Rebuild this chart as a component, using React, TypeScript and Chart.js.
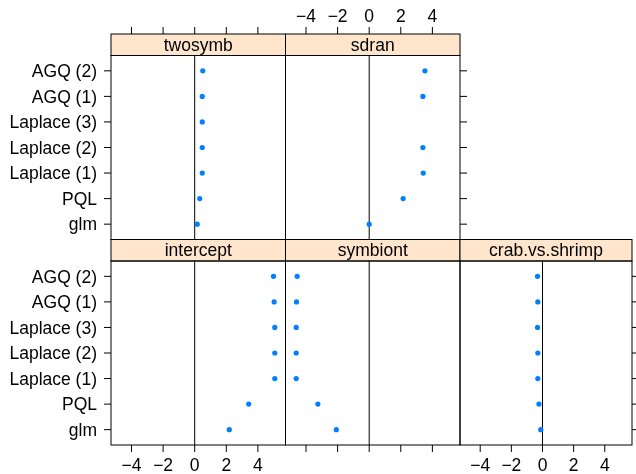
import React, { useEffect, useRef } from "react";
import { Chart, registerables } from "chart.js";

Chart.register(...registerables);

// Fitting methods, bottom to top
const methods = ["glm", "PQL", "Laplace (1)", "Laplace (2)", "Laplace (3)", "AGQ (1)", "AGQ (2)"];

// Coefficient estimates per term, one entry per method
const twosymb = [0.16, 0.32, 0.48, 0.48, 0.48, 0.48, 0.51];
const sdran = [0, 2.15, 3.42, 3.4, null, 3.4, 3.53];
const intercept = [2.19, 3.42, 5.07, 5.07, 5.07, 5.03, 4.99];
const symbiont = [-2.08, -3.25, -4.62, -4.62, -4.62, -4.6, -4.56];
const crabVsShrimp = [-0.11, -0.23, -0.3, -0.3, -0.32, -0.3, -0.32];

const xTicks = [-4, -2, 0, 2, 4];

// Page and panel geometry
const W = 636;
const H = 474;
const colLeft = [111, 285.5, 460];
const colWidth = 174.5;
const stripTop = [34, 239.5]; // top row, bottom row
const stripH = 21.5;
const plotH = 184;
const tickLen = 7;
const FONT = '17.5px "Liberation Sans", Arial, Helvetica, sans-serif';

// Shared x range: full data range padded by 7% on each side
const allValues = [...twosymb, ...sdran, ...intercept, ...symbiont, ...crabVsShrimp].filter(
  (v) => v !== null
) as number[];
const dataMin = Math.min(...allValues);
const dataMax = Math.max(...allValues);
const pad = (dataMax - dataMin) * 0.07;
const xMin = dataMin - pad;
const xMax = dataMax + pad;

type Side = "labels" | "ticks" | null;
type PanelSpec = {
  title: string;
  values: (number | null)[];
  row: number;
  col: number;
  left: Side;
  right: Side;
  top: Side;
  bottom: Side;
};

const panels: PanelSpec[] = [
  { title: "twosymb", values: twosymb, row: 0, col: 0, left: "labels", right: null, top: "ticks", bottom: null },
  { title: "sdran", values: sdran, row: 0, col: 1, left: null, right: "ticks", top: "labels", bottom: null },
  { title: "intercept", values: intercept, row: 1, col: 0, left: "labels", right: null, top: null, bottom: "labels" },
  { title: "symbiont", values: symbiont, row: 1, col: 1, left: null, right: null, top: null, bottom: "ticks" },
  { title: "crab.vs.shrimp", values: crabVsShrimp, row: 1, col: 2, left: null, right: "ticks", top: null, bottom: "labels" },
];

const fmt = (v: number) => (v < 0 ? "\u2212" + Math.abs(v) : String(v));

function makePanelPlugin(spec: PanelSpec) {
  return {
    id: "latticePanel",
    beforeDatasetsDraw(chart: any) {
      const { ctx, chartArea } = chart;
      const xs = chart.scales.x;
      const x0 = xs.getPixelForValue(0);
      ctx.save();
      ctx.strokeStyle = "#000";
      ctx.lineWidth = 1;
      ctx.beginPath();
      ctx.moveTo(x0, chartArea.top);
      ctx.lineTo(x0, chartArea.bottom);
      ctx.stroke();
      ctx.restore();
    },
    afterDraw(chart: any) {
      const { ctx, chartArea } = chart;
      const xs = chart.scales.x;
      const ys = chart.scales.y;
      const { left, right, top, bottom } = chartArea;
      const sTop = top - stripH;
      ctx.save();
      ctx.lineWidth = 1;
      ctx.strokeStyle = "#000";
      ctx.fillStyle = "#000";
      ctx.font = FONT;

      // strip
      ctx.fillStyle = "#ffe5cc";
      ctx.fillRect(left, sTop, right - left, stripH);
      ctx.strokeRect(left, sTop, right - left, stripH);
      ctx.fillStyle = "#000";
      ctx.textAlign = "center";
      ctx.textBaseline = "alphabetic";
      ctx.fillText(spec.title, (left + right) / 2, sTop + stripH / 2 + 6.2);

      // panel border
      ctx.strokeRect(left, top, right - left, bottom - top);

      // y axis (methods)
      methods.forEach((m, i) => {
        const y = ys.getPixelForValue(i + 1);
        if (spec.left) {
          ctx.beginPath();
          ctx.moveTo(left - tickLen, y);
          ctx.lineTo(left, y);
          ctx.stroke();
          if (spec.left === "labels") {
            ctx.textAlign = "right";
            ctx.fillText(m, left - tickLen - 7, y + 6.3);
          }
        }
        if (spec.right) {
          ctx.beginPath();
          ctx.moveTo(right, y);
          ctx.lineTo(right + tickLen, y);
          ctx.stroke();
        }
      });

      // x axes
      xTicks.forEach((t) => {
        const x = xs.getPixelForValue(t);
        if (spec.top) {
          ctx.beginPath();
          ctx.moveTo(x, sTop - tickLen);
          ctx.lineTo(x, sTop);
          ctx.stroke();
          if (spec.top === "labels") {
            ctx.textAlign = "center";
            ctx.fillText(fmt(t), x, sTop - tickLen - 5.5);
          }
        }
        if (spec.bottom) {
          ctx.beginPath();
          ctx.moveTo(x, bottom);
          ctx.lineTo(x, bottom + tickLen);
          ctx.stroke();
          if (spec.bottom === "labels") {
            ctx.textAlign = "center";
            ctx.fillText(fmt(t), x, bottom + tickLen + 18.5);
          }
        }
      });
      ctx.restore();
    },
  };
}

function Panel({ spec }: { spec: PanelSpec }) {
  const ref = useRef<HTMLCanvasElement>(null);
  useEffect(() => {
    if (!ref.current) return;
    const left = colLeft[spec.col];
    const plotTop = stripTop[spec.row] + stripH;
    const points = spec.values
      .map((v, i) => (v === null ? null : { x: v, y: i + 1 }))
      .filter((p) => p !== null) as { x: number; y: number }[];
    const chart = new Chart(ref.current, {
      type: "scatter",
      data: {
        datasets: [
          {
            data: points,
            pointRadius: 2.6,
            pointBorderWidth: 0,
            pointBackgroundColor: "#0080ff",
            pointBorderColor: "#0080ff",
            showLine: false,
          },
        ],
      },
      options: {
        responsive: false,
        maintainAspectRatio: false,
        animation: false,
        devicePixelRatio: 1,
        events: [],
        layout: {
          padding: {
            left: left,
            right: W - (left + colWidth),
            top: plotTop,
            bottom: H - (plotTop + plotH),
          },
        },
        plugins: { legend: { display: false }, tooltip: { enabled: false } },
        scales: {
          x: { type: "linear", min: xMin, max: xMax, display: false },
          y: { type: "linear", min: 0.4, max: 7.6, display: false },
        },
      },
      plugins: [makePanelPlugin(spec)],
    });
    return () => chart.destroy();
  }, [spec]);
  return (
    <canvas
      ref={ref}
      width={W}
      height={H}
      style={{ position: "absolute", left: 0, top: 0, width: W, height: H }}
    />
  );
}

export default function App() {
  return (
    <div
      style={{
        position: "absolute",
        left: 0,
        top: 0,
        width: W,
        height: H,
        background: "#fff",
        overflow: "hidden",
      }}
    >
      {panels.map((p) => (
        <Panel key={p.title} spec={p} />
      ))}
    </div>
  );
}
